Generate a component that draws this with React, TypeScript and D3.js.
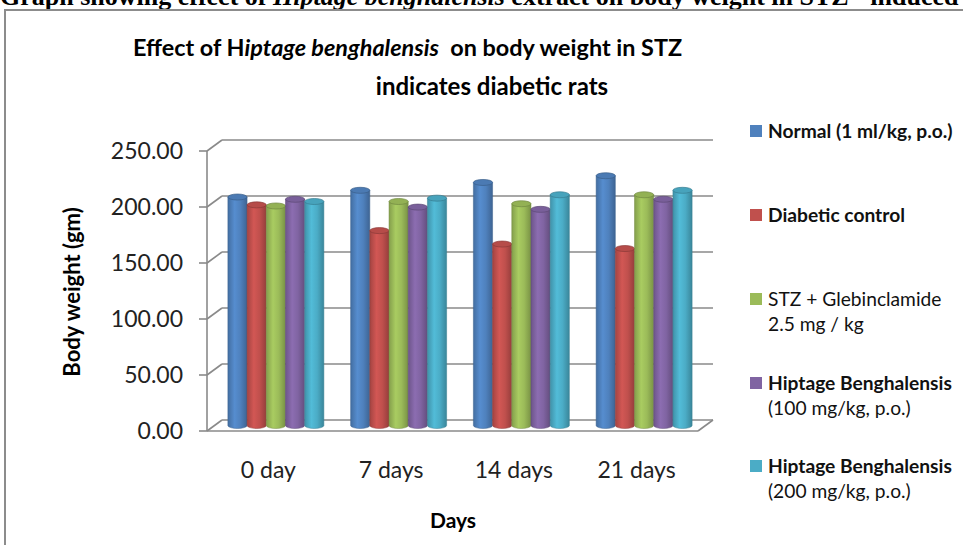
import React from 'react';
import * as d3 from 'd3';

const categories = ['0 day', '7 days', '14 days', '21 days'];
const seriesKeys = ['normal', 'diabetic', 'glib', 'hb100', 'hb200'];
const normal = [204, 210, 217, 223];
const diabetic = [197, 174, 162, 158];
const glib = [196, 200, 198, 206];
const hb100 = [202, 195, 193, 202];
const hb200 = [200, 203, 206, 210];
const seriesValues = [normal, diabetic, glib, hb100, hb200];
const seriesColors = ['#4F81BD', '#C0504D', '#9BBB59', '#8064A2', '#4BACC6'];
const legendLines = [
  ['Normal (1 ml/kg, p.o.)'],
  ['Diabetic control'],
  ['STZ + Glebinclamide', '2.5 mg / kg'],
  ['Hiptage Benghalensis', '(100 mg/kg, p.o.)'],
  ['Hiptage Benghalensis', '(200 mg/kg, p.o.)'],
];
const legendBold = [true, true, false, true, true];
const yTicks = [0, 50, 100, 150, 200, 250];

const SANS = 'Lato, "Open Sans", sans-serif';

export default function App() {
  const W = 963, H = 545;
  const x0 = 207, x1 = 698;
  const y = d3.scaleLinear().domain([0, 250]).range([431, 151]);
  const depthX = 15, depthY = -11;
  const xBand = d3.scaleBand<string>().domain(categories).range([x0, x1]).paddingInner(0.218).paddingOuter(0.109);
  const sBand = d3.scaleBand<string>().domain(seriesKeys).range([0, xBand.bandwidth()]).padding(0);
  const bw = sBand.bandwidth();
  const ry = 3;
  const grid = '#8a8a8a';
  const legendY = [131, 215, 299, 383, 466];

  return (
    <svg width={W} height={H} style={{ position: 'absolute', left: 0, top: 0, background: '#fff' }}>
      <defs>
        {seriesColors.map((c, i) => {
          const base = d3.color(c)!;
          return (
            <linearGradient key={i} id={`g${i}`} x1="0" x2="1" y1="0" y2="0">
              <stop offset="0%" stopColor={base.darker(0.45).formatHex()} />
              <stop offset="35%" stopColor={base.brighter(0.25).formatHex()} />
              <stop offset="65%" stopColor={base.formatHex()} />
              <stop offset="100%" stopColor={base.darker(0.7).formatHex()} />
            </linearGradient>
          );
        })}
      </defs>
      <rect x={0} y={0} width={W} height={H} fill="#fff" />
      {/* header text (cut off at the top in the reference) */}
      <text x={0} y={5} fontFamily='"Liberation Serif", "Times New Roman", serif' fontWeight="bold" fontSize={26}>
        <tspan>Graph showing effect of </tspan>
        <tspan fontStyle="italic">Hiptage benghalensis</tspan>
        <tspan> extract on body weight in STZ - induced diabetic rats</tspan>
      </text>
      {/* border */}
      <rect x={5} y={10} width={1100} height={700} fill="none" stroke="#8c8c8c" strokeWidth={2} />

      {/* title */}
      <text x={133} y={56} fontFamily={SANS} fontWeight="bold" fontSize={23.4} fill="#000">
        <tspan>Effect of H</tspan>
        <tspan fontStyle="italic">iptage benghalensis</tspan>
        <tspan>{'\u00a0 on body weight in STZ'}</tspan>
      </text>
      <text x={492} y={95} textAnchor="middle" fontFamily={SANS} fontWeight="bold" fontSize={24} fill="#000">
        indicates diabetic rats
      </text>

      {/* back wall gridlines and side wall */}
      {yTicks.map((t) => (
        <g key={t}>
          <line x1={x0 + depthX} x2={x1 + depthX} y1={y(t) + depthY} y2={y(t) + depthY} stroke={grid} strokeWidth={1.6} />
          <line x1={x0} x2={x0 + depthX} y1={y(t)} y2={y(t) + depthY} stroke={grid} strokeWidth={1.6} />
          <line x1={x0 - 8} x2={x0} y1={y(t)} y2={y(t)} stroke={grid} strokeWidth={1.6} />
          <text x={183} y={y(t)} dy="0.36em" textAnchor="end" fontFamily={SANS} fontSize={23} fill="#222">
            {t.toFixed(2)}
          </text>
        </g>
      ))}
      <line x1={x0} x2={x0} y1={y(250)} y2={y(0)} stroke={grid} strokeWidth={1.6} />
      <line x1={x0} x2={x1} y1={y(0)} y2={y(0)} stroke={grid} strokeWidth={1.6} />
      <line x1={x1} x2={x1 + depthX} y1={y(0)} y2={y(0) + depthY} stroke={grid} strokeWidth={1.6} />

      {/* bars */}
      {categories.map((cat, ci) => (
        <g key={cat}>
          {seriesKeys.map((k, si) => {
            const v = seriesValues[si][ci];
            const bx = (xBand(cat) ?? 0) + (sBand(k) ?? 0) + depthX / 2;
            const yT = y(v) + depthY / 2;
            const yB = y(0) + depthY / 2;
            const rx = bw / 2;
            const base = d3.color(seriesColors[si])!;
            return (
              <g key={k}>
                <path
                  d={`M${bx},${yT} L${bx},${yB} A${rx},${ry} 0 0 0 ${bx + bw},${yB} L${bx + bw},${yT} Z`}
                  fill={`url(#g${si})`}
                  stroke={base.darker(0.8).formatHex()}
                  strokeWidth={0.5}
                />
                <ellipse cx={bx + rx} cy={yT} rx={rx} ry={ry} fill={base.darker(0.15).formatHex()} stroke={base.darker(0.9).formatHex()} strokeWidth={0.7} />
              </g>
            );
          })}
        </g>
      ))}

      {/* x labels */}
      {categories.map((cat) => (
        <text key={cat} x={(xBand(cat) ?? 0) + xBand.bandwidth() / 2} y={478} textAnchor="middle" fontFamily={SANS} fontSize={23} fill="#222">
          {cat}
        </text>
      ))}
      <text x={453} y={528} textAnchor="middle" fontFamily={SANS} fontWeight="bold" fontSize={21} fill="#000">Days</text>
      <text transform="translate(80,292) rotate(-90)" textAnchor="middle" fontFamily={SANS} fontWeight="bold" fontSize={22} fill="#000">
        Body weight (gm)
      </text>

      {/* legend */}
      {legendLines.map((lines, i) => (
        <g key={i}>
          <rect x={750} y={legendY[i] - 6} width={12} height={12} fill={seriesColors[i]} />
          {lines.map((ln, j) => (
            <text key={j} x={768} y={legendY[i] + j * 25.5} dy="0.36em" fontFamily={SANS} fontSize={19.2}
              fontWeight={j === 0 && legendBold[i] ? 'bold' : 'normal'} fill="#111">
              {ln}
            </text>
          ))}
        </g>
      ))}
    </svg>
  );
}
